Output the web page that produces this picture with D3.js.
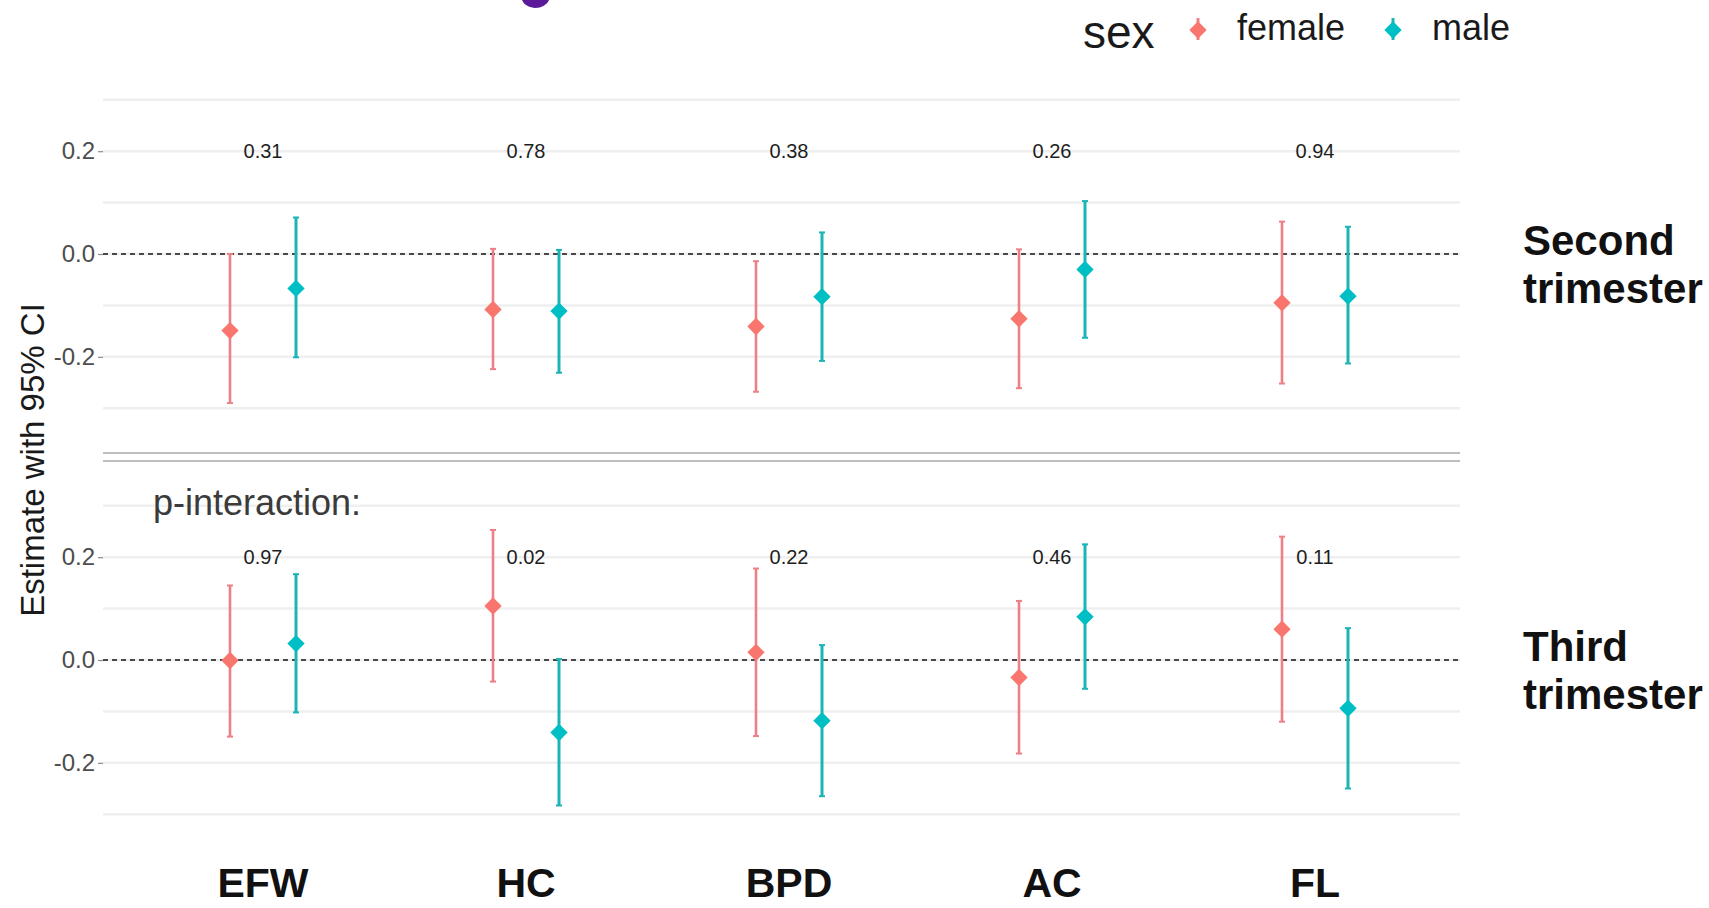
<!DOCTYPE html>
<html>
<head>
<meta charset="utf-8">
<script src="https://cdn.jsdelivr.net/npm/d3@7"></script>
<style>
  html, body { margin: 0; padding: 0; background: #ffffff; }
  svg { display: block; font-family: "Liberation Sans", Arial, Helvetica, sans-serif; }
</style>
</head>
<body>
<svg id="chart" width="1709" height="908"></svg>
<script>
// Fetal biometry measures on the x axis
const categories = ["EFW", "HC", "BPD", "AC", "FL"];
const sexes = ["female", "male"];
const sexColors = ["#F8766D", "#00BFC4"];
const barColors = ["#ec8086", "#1cb4b7"];

// Second trimester: estimates with 95% CI
const femaleEst2 = [-0.149, -0.108, -0.141, -0.126, -0.095];
const femaleLo2  = [-0.290, -0.224, -0.268, -0.261, -0.252];
const femaleHi2  = [ 0.000,  0.010, -0.014,  0.009,  0.063];
const maleEst2   = [-0.067, -0.111, -0.083, -0.030, -0.082];
const maleLo2    = [-0.201, -0.231, -0.208, -0.163, -0.213];
const maleHi2    = [ 0.071,  0.008,  0.042,  0.103,  0.053];
const pInteraction2 = ["0.31", "0.78", "0.38", "0.26", "0.94"];

// Third trimester: estimates with 95% CI
const femaleEst3 = [-0.001,  0.105,  0.015, -0.034,  0.060];
const femaleLo3  = [-0.149, -0.042, -0.148, -0.182, -0.120];
const femaleHi3  = [ 0.145,  0.253,  0.178,  0.115,  0.240];
const maleEst3   = [ 0.032, -0.141, -0.118,  0.084, -0.094];
const maleLo3    = [-0.102, -0.283, -0.265, -0.056, -0.250];
const maleHi3    = [ 0.167,  0.002,  0.029,  0.225,  0.062];
const pInteraction3 = ["0.97", "0.02", "0.22", "0.46", "0.11"];

const yTicks = [-0.2, 0.0, 0.2];
const yGrid = [-0.3, -0.2, -0.1, 0.0, 0.1, 0.2, 0.3];
const panelLabels = [["Second", "trimester"], ["Third", "trimester"]];

function rows(est, lo, hi, sexIndex) {
  return categories.map((c, i) => ({ cat: c, sex: sexes[sexIndex], si: sexIndex, est: est[i], lo: lo[i], hi: hi[i] }));
}

const panels = [
  { data: rows(femaleEst2, femaleLo2, femaleHi2, 0).concat(rows(maleEst2, maleLo2, maleHi2, 1)),
    p: pInteraction2, label: panelLabels[0], range: [408.2, 99.8], note: false },
  { data: rows(femaleEst3, femaleLo3, femaleHi3, 0).concat(rows(maleEst3, maleLo3, maleHi3, 1)),
    p: pInteraction3, label: panelLabels[1], range: [814.2, 505.8], note: true }
];

const svg = d3.select("#chart");
const panelLeft = 103, panelRight = 1460;

const x = d3.scalePoint().domain(categories).range([263, 1315]);
const dodge = d3.scalePoint().domain(sexes).range([-33, 33]);

const diamond = d3.symbol().type(d3.symbolSquare).size(150);

panels.forEach(panel => {
  const y = d3.scaleLinear().domain([-0.3, 0.3]).range(panel.range);
  const g = svg.append("g");

  // grid lines
  g.selectAll("line.grid").data(yGrid).join("line")
    .attr("x1", panelLeft).attr("x2", panelRight)
    .attr("y1", d => y(d)).attr("y2", d => y(d))
    .attr("stroke", "#efefef").attr("stroke-width", 2.5);

  // y axis
  const axis = d3.axisLeft(y).tickValues(yTicks).tickFormat(d3.format(".1f")).tickSize(5).tickPadding(3);
  const ax = g.append("g").attr("transform", `translate(${panelLeft},0)`).call(axis);
  ax.select(".domain").remove();
  ax.selectAll(".tick line").attr("stroke", "#8a8a8a").attr("stroke-width", 1.2);
  ax.selectAll(".tick text").attr("fill", "#4d4d4d").attr("font-size", 24)
    .attr("font-family", "Liberation Sans, Arial, sans-serif")
    .text(d => d3.format(".1f")(d).replace("−", "-"));

  // zero reference line
  g.append("line")
    .attr("x1", panelLeft).attr("x2", panelRight)
    .attr("y1", y(0)).attr("y2", y(0))
    .attr("stroke", "#4a4a4a").attr("stroke-width", 2).attr("stroke-dasharray", "5,4");

  // p-interaction values
  g.selectAll("text.pval").data(panel.p).join("text")
    .attr("x", (d, i) => x(categories[i]))
    .attr("y", y(0.2))
    .attr("dy", "0.36em")
    .attr("text-anchor", "middle")
    .attr("font-size", 20)
    .attr("fill", "#1e1e1e")
    .text(d => d);

  // error bars
  const bars = g.selectAll("g.bar").data(panel.data).join("g")
    .attr("transform", d => `translate(${x(d.cat) + dodge(d.sex)},0)`);
  bars.append("line")
    .attr("y1", d => y(d.lo)).attr("y2", d => y(d.hi))
    .attr("stroke", d => barColors[d.si]).attr("stroke-width", d => d.si === 0 ? 2.6 : 3);
  bars.append("line")
    .attr("x1", -3).attr("x2", 3)
    .attr("y1", d => y(d.lo)).attr("y2", d => y(d.lo))
    .attr("stroke", d => barColors[d.si]).attr("stroke-width", 2);
  bars.append("line")
    .attr("x1", -3).attr("x2", 3)
    .attr("y1", d => y(d.hi)).attr("y2", d => y(d.hi))
    .attr("stroke", d => barColors[d.si]).attr("stroke-width", 2);
  bars.append("path")
    .attr("d", diamond)
    .attr("transform", d => `translate(0,${y(d.est)}) rotate(45)`)
    .attr("fill", d => sexColors[d.si]);

  // facet label on the right
  const lab = g.append("text")
    .attr("x", 1523)
    .attr("y", y(0) + 1)
    .attr("font-size", 42).attr("font-weight", "bold").attr("fill", "#111");
  lab.append("tspan").attr("x", 1523).text(panel.label[0]);
  lab.append("tspan").attr("x", 1523).attr("dy", 48).text(panel.label[1]);

  if (panel.note) {
    g.append("text")
      .attr("x", 153).attr("y", y(0.3) + 9)
      .attr("font-size", 36).attr("fill", "#3b3b3b")
      .text("p-interaction:");
  }
});

// separator between the two panels
svg.selectAll("line.sep").data([453, 461]).join("line")
  .attr("x1", panelLeft).attr("x2", panelRight)
  .attr("y1", d => d).attr("y2", d => d)
  .attr("stroke", "#bdbdbd").attr("stroke-width", 2);

// x axis category labels
svg.selectAll("text.cat").data(categories).join("text")
  .attr("x", d => x(d))
  .attr("y", 897)
  .attr("text-anchor", "middle")
  .attr("font-size", 41).attr("font-weight", "bold").attr("fill", "#111")
  .text(d => d);

// y axis title
svg.append("text")
  .attr("transform", "translate(44,460) rotate(-90)")
  .attr("text-anchor", "middle")
  .attr("font-size", 33).attr("fill", "#1a1a1a")
  .text("Estimate with 95% CI");

// edge of the heading glyph that sits above the visible area
svg.append("path")
  .attr("d", "M522,0 C526,10 544,11 549,0 Z")
  .attr("fill", "#5a1a9a");

// legend
const legend = svg.append("g");
legend.append("text").attr("x", 1083).attr("y", 48)
  .attr("font-size", 46).attr("fill", "#1a1a1a").text("sex");
const keyX = [1198, 1393];
const labelX = [1237, 1432];
sexes.forEach((s, i) => {
  legend.append("line")
    .attr("x1", keyX[i]).attr("x2", keyX[i]).attr("y1", 18).attr("y2", 40)
    .attr("stroke", barColors[i]).attr("stroke-width", 3);
  legend.append("path").attr("d", diamond)
    .attr("transform", `translate(${keyX[i]},30) rotate(45)`)
    .attr("fill", sexColors[i]);
  legend.append("text").attr("x", labelX[i]).attr("y", 40)
    .attr("font-size", 36).attr("fill", "#1a1a1a").text(s);
});
</script>
</body>
</html>
